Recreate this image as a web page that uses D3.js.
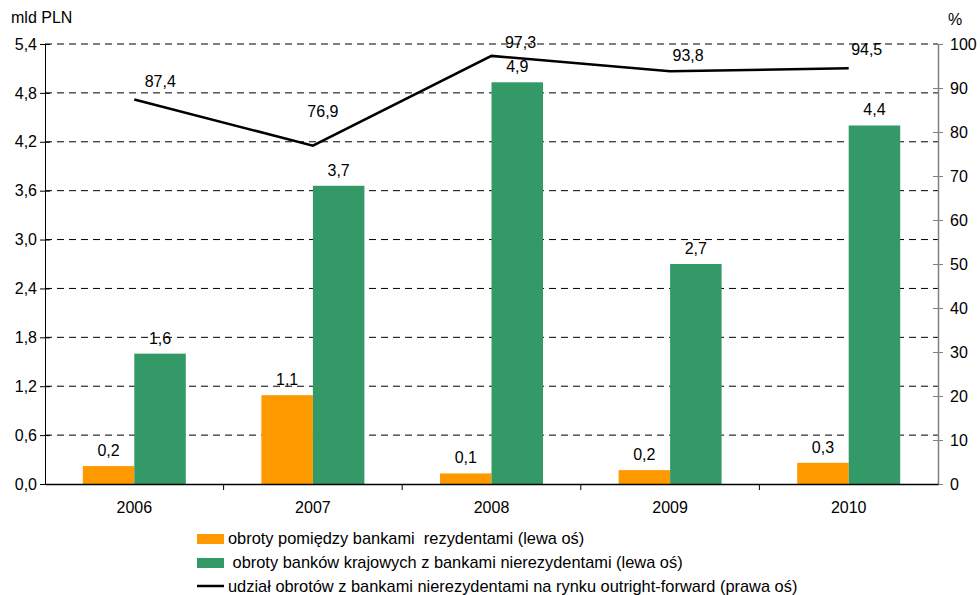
<!DOCTYPE html>
<html><head><meta charset="utf-8">
<script src="https://cdn.jsdelivr.net/npm/d3@7"></script>
<style>body{margin:0;background:#fff}svg{display:block}text{font-family:"Liberation Sans",Arial,sans-serif;fill:#000}</style>
</head><body><svg id="c" width="980" height="595"></svg>
<script>
const years = ["2006","2007","2008","2009","2010"];
const residents = [0.22, 1.09, 0.13, 0.17, 0.26];
const residentLabels = ["0,2","1,1","0,1","0,2","0,3"];
const nonResidents = [1.6, 3.66, 4.93, 2.7, 4.4];
const nonResidentLabels = ["1,6","3,7","4,9","2,7","4,4"];
const share = [87.4, 76.9, 97.3, 93.8, 94.5];
const leftTicks = [0,0.6,1.2,1.8,2.4,3.0,3.6,4.2,4.8,5.4];
const rightTicks = [0,10,20,30,40,50,60,70,80,90,100];
const legendItems = ["obroty pomiędzy bankami  rezydentami (lewa oś)", " obroty banków krajowych z bankami nierezydentami (lewa oś)", "udział obrotów z bankami nierezydentami na rynku outright-forward (prawa oś)"];

const svg = d3.select("#c");
const FS = 16;
const L = 45, R = 938, T = 44, B = 484;
const fmt = d => d3.format(".1f")(d).replace(".", ",");
const x = d3.scaleBand().domain(years).range([L, R]).paddingInner(0).paddingOuter(0);
const yL = d3.scaleLinear().domain([0, 5.4]).range([B, T]);
const yR = d3.scaleLinear().domain([0, 100]).range([B, T]);
const bw = 51.5;
// label placement offsets (layout, not data)
const lineLabelDx = [26, 10, 29, 18, 18];
const lineLabelDy = [-12, -29, -8, -10, -13];

// gridlines
svg.append("g").selectAll("line").data(leftTicks.filter(d => d > 0)).join("line")
  .attr("x1", L).attr("x2", R).attr("y1", d => yL(d)).attr("y2", d => yL(d))
  .attr("stroke", "#000").attr("stroke-width", 1).attr("stroke-dasharray", "7,5");

// bars
const cx = d => x(d) + x.bandwidth() / 2;
svg.append("g").selectAll("rect").data(years).join("rect")
  .attr("x", d => cx(d) - bw).attr("width", bw)
  .attr("y", (d, i) => yL(residents[i])).attr("height", (d, i) => B - yL(residents[i]))
  .attr("fill", "#FF9900");
svg.append("g").selectAll("rect").data(years).join("rect")
  .attr("x", d => cx(d)).attr("width", bw)
  .attr("y", (d, i) => yL(nonResidents[i])).attr("height", (d, i) => B - yL(nonResidents[i]))
  .attr("fill", "#339966");

// bar labels
svg.append("g").selectAll("text").data(years).join("text")
  .attr("x", d => cx(d) - bw / 2).attr("y", (d, i) => yL(residents[i]) - 10)
  .attr("text-anchor", "middle").attr("font-size", FS).text((d, i) => residentLabels[i]);
svg.append("g").selectAll("text").data(years).join("text")
  .attr("x", d => cx(d) + bw / 2).attr("y", (d, i) => yL(nonResidents[i]) - 10)
  .attr("text-anchor", "middle").attr("font-size", FS).text((d, i) => nonResidentLabels[i]);

// line
const line = d3.line().x((d, i) => cx(years[i])).y(d => yR(d));
svg.append("path").datum(share).attr("d", line).attr("fill", "none")
  .attr("stroke", "#000").attr("stroke-width", 2.5);
svg.append("g").selectAll("text").data(share).join("text")
  .attr("x", (d, i) => cx(years[i]) + lineLabelDx[i]).attr("y", (d, i) => yR(d) + lineLabelDy[i])
  .attr("text-anchor", "middle").attr("font-size", FS).text(d => fmt(d));

// left axis
const gl = svg.append("g").attr("transform", `translate(${L},0)`)
  .call(d3.axisLeft(yL).tickValues(leftTicks).tickFormat(fmt).tickSize(5).tickSizeOuter(0));
gl.selectAll(".tick line").attr("x1", 5);
gl.select(".domain").attr("stroke", "#000");
gl.selectAll("text").attr("font-size", FS).attr("x", -8).attr("fill", "#000").style("font-family", "Liberation Sans, Arial, sans-serif");

// right axis
const gr = svg.append("g").attr("transform", `translate(${R},0)`)
  .call(d3.axisRight(yR).tickValues(rightTicks).tickSize(5).tickSizeOuter(0));
gr.selectAll(".tick line").attr("x1", -5).attr("stroke", "#808080");
gr.select(".domain").attr("stroke", "#808080").attr("stroke-width", 1.5);
gr.selectAll("text").attr("font-size", FS).attr("x", 12).attr("fill", "#000").style("font-family", "Liberation Sans, Arial, sans-serif");

// bottom axis
const gb = svg.append("g").attr("transform", `translate(0,${B})`)
  .call(d3.axisBottom(x).tickSize(0).tickSizeOuter(0));
gb.select(".domain").attr("stroke", "#000").attr("stroke-width", 1.5);
gb.selectAll("text").attr("font-size", FS).attr("dy", 0).attr("y", 29).attr("fill", "#000").style("font-family", "Liberation Sans, Arial, sans-serif");
svg.append("g").selectAll("line").data(years.slice(1)).join("line")
  .attr("x1", d => x(d)).attr("x2", d => x(d)).attr("y1", B).attr("y2", B + 6)
  .attr("stroke", "#000");

// axis titles
svg.append("text").attr("x", 11).attr("y", 23).attr("font-size", FS).text("mld PLN");
svg.append("text").attr("x", 948).attr("y", 25).attr("font-size", FS).text("%");

// legend
const lg = svg.append("g");
const ly = [544, 568, 592];
lg.append("rect").attr("x", 197).attr("y", 534).attr("width", 27).attr("height", 10).attr("fill", "#FF9900");
lg.append("rect").attr("x", 197).attr("y", 558).attr("width", 27).attr("height", 10).attr("fill", "#339966");
lg.append("line").attr("x1", 197).attr("x2", 224).attr("y1", 586).attr("y2", 586).attr("stroke", "#000").attr("stroke-width", 2.5);
lg.selectAll("text").data(legendItems).join("text")
  .attr("x", 228).attr("y", (d, i) => ly[i]).attr("font-size", 16.4).style("white-space", "pre")
  .attr("xml:space", "preserve").text(d => d);
</script></body></html>
